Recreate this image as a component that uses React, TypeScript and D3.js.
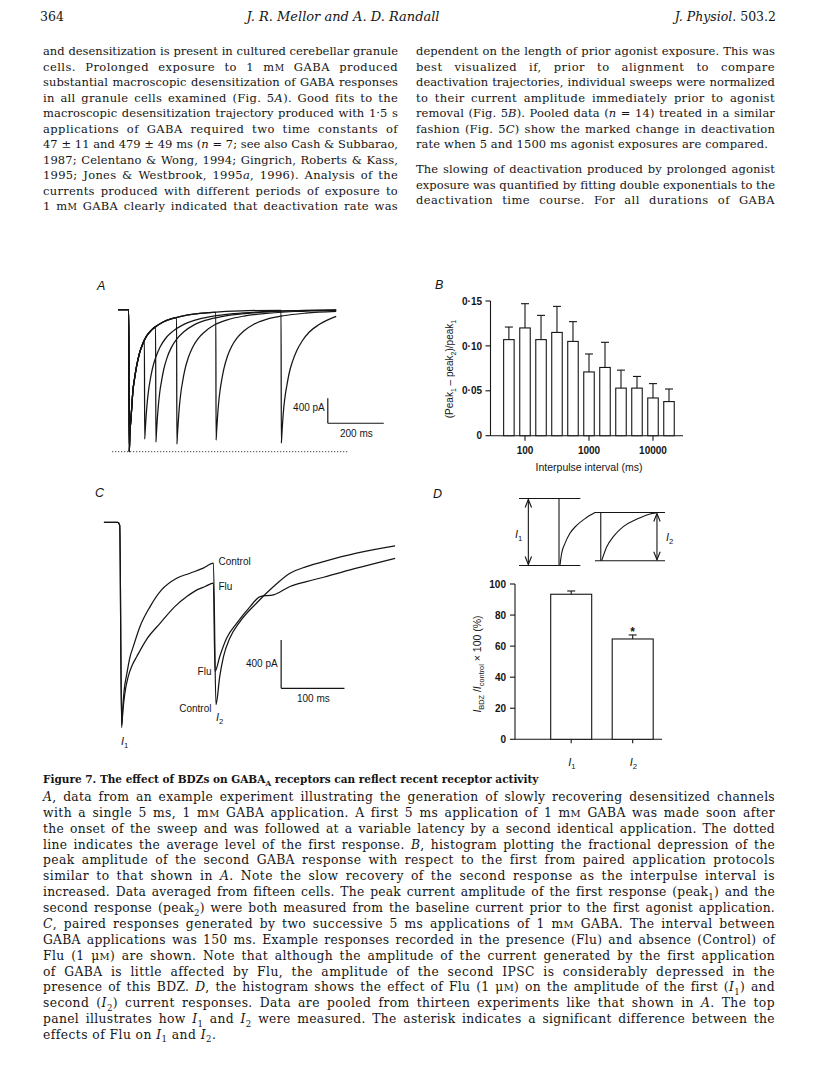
import React, { useLayoutEffect, useRef } from 'react';
import * as d3 from 'd3';

const SERIF = "'DejaVu Serif', serif";
const SANS = "'Liberation Sans', Arial, sans-serif";
const INK = '#151515';

// ---------------- Panel A : paired responses at variable latency ----------------
const aFirstT = [-39, -1, 1, 3, 6, 9, 14, 20, 27, 38, 50, 62, 80, 100, 122, 150, 182, 230, 300, 400, 550, 740];
const aFirstI = [0, 0, -2275, -2000, -1800, -1620, -1300, -1100, -910, -690, -540, -430, -330, -260, -200, -150, -115, -75, -45, -22, -8, -2];
const aOnsets = [55, 95, 170, 310, 543];
const aSecondT = [
  [55, 56, 58, 61, 65, 70, 76, 84, 96, 111, 131, 156, 191, 236, 296, 376, 476, 606, 740],
  [95, 96, 98, 101, 105, 110, 116, 124, 136, 151, 171, 196, 231, 276, 336, 416, 516, 646, 740],
  [170, 171, 173, 176, 180, 185, 191, 199, 211, 226, 246, 271, 306, 351, 411, 491, 591, 740],
  [310, 311, 313, 316, 320, 325, 331, 339, 351, 366, 386, 411, 446, 491, 551, 631, 740],
  [543, 544, 546, 549, 553, 558, 564, 572, 584, 599, 619, 644, 679, 740],
];
const aSecondI = [
  [-480, -2072, -1930, -1720, -1490, -1290, -1120, -940, -760, -600, -460, -350, -250, -170, -110, -65, -35, -16, -7],
  [-275, -2120, -1975, -1760, -1530, -1320, -1150, -960, -770, -610, -470, -355, -250, -170, -110, -65, -34, -15, -8],
  [-130, -2152, -2000, -1790, -1550, -1340, -1165, -975, -780, -615, -470, -355, -245, -165, -105, -62, -32, -12],
  [-45, -2088, -1940, -1730, -1500, -1300, -1130, -945, -755, -595, -455, -340, -235, -158, -100, -58, -30],
  [-12, -2136, -1990, -1780, -1560, -1370, -1210, -1020, -830, -660, -500, -360, -240, -110],
];
const aPeakLevel = -2275;
const aDotT = [-60, 780];
const aBarT = [710, 910];
const aBarI = [-1420, -1820];

// ---------------- Panel B : fractional depression histogram ----------------
const bIntervals = [56, 100, 178, 316, 562, 1000, 1778, 3162, 5623, 10000, 17783];
const bMean = [0.107, 0.12, 0.107, 0.115, 0.105, 0.071, 0.076, 0.053, 0.053, 0.042, 0.038];
const bSem = [0.014, 0.027, 0.027, 0.029, 0.022, 0.02, 0.028, 0.02, 0.013, 0.016, 0.014];
const bYTicks = [0, 0.05, 0.1, 0.15];
const bXTicks = [100, 1000, 10000];

// ---------------- Panel C : Control vs Flu ----------------
const cCtrlT = [-27, -5, -2, 1, 3, 5, 9, 14, 19.5, 30, 46, 64, 88, 109, 130, 146, 150, 156, 162, 172, 188, 214, 241, 267, 293, 320, 372, 433];
const cCtrlI = [0, 0, -25, -1700, -1520, -1390, -1260, -1120, -1028, -863, -698, -560, -463, -422, -380, -339, -1510, -1276, -1111, -959, -822, -670, -532, -422, -367, -326, -256, -196];
const cFluT = [-27, -5, -2, 1, 3, 6, 11.5, 18, 25, 40, 62, 85, 104, 120, 133, 146, 148.5, 156, 167, 183, 204, 220, 241, 267, 293, 320, 372, 433];
const cFluI = [0, 0, -25, -1680, -1560, -1420, -1276, -1180, -1111, -973, -835, -698, -615, -560, -532, -504, -1235, -1111, -959, -835, -698, -615, -601, -532, -491, -455, -380, -298];
const cBarT = [253, 353];
const cBarI = [-975, -1375];

// ---------------- Panel D : schematic + histogram ----------------
const sDecay1X = [28.1, 29.2, 31.5, 34.9, 39.5, 45.2, 52.1];
const sDecay1Y = [0.99, 0.82, 0.67, 0.52, 0.4, 0.3, 0.21];
const sDecay2X = [56.6, 60.1, 64.6, 71.4, 80.6, 89.7, 93.8];
const sDecay2Y = [0.93, 0.72, 0.57, 0.42, 0.31, 0.23, 0.215];
const dCats = ['I1', 'I2'];
const dLabels = ['*I*~1~', '*I*~2~'];
const dMean = [93.4, 64.6];
const dSem = [2.1, 2.6];
const dYTicks = [0, 20, 40, 60, 80, 100];

// ---------------- Text ----------------
const leftCol = [
  'and desensitization is present in cultured cerebellar granule',
  'cells. Prolonged exposure to 1 m[m] GABA produced',
  'substantial macroscopic desensitization of GABA responses',
  'in all granule cells examined (Fig. 5*A*). Good fits to the',
  'macroscopic desensitization trajectory produced with 1·5 s',
  'applications of GABA required two time constants of',
  '47 ± 11 and 479 ± 49 ms (*n* = 7; see also Cash & Subbarao,',
  '1987; Celentano & Wong, 1994; Gingrich, Roberts & Kass,',
  '1995; Jones & Westbrook, 1995*a*, 1996). Analysis of the',
  'currents produced with different periods of exposure to',
  '1 m[m] GABA clearly indicated that deactivation rate was',
];
const rightCol1 = [
  'dependent on the length of prior agonist exposure. This was',
  'best visualized if, prior to alignment to compare',
  'deactivation trajectories, individual sweeps were normalized',
  'to their current amplitude immediately prior to agonist',
  'removal (Fig. 5*B*). Pooled data (*n* = 14) treated in a similar',
  'fashion (Fig. 5*C*) show the marked change in deactivation',
  'rate when 5 and 1500 ms agonist exposures are compared.',
];
const rightCol2 = [
  'The slowing of deactivation produced by prolonged agonist',
  'exposure was quantified by fitting double exponentials to the',
  'deactivation time course. For all durations of GABA',
];
const captionTitle = 'Figure 7. The effect of BDZs on GABA~A~ receptors can reflect recent receptor activity';
const captionLines = [
  '*A*, data from an example experiment illustrating the generation of slowly recovering desensitized channels',
  'with a single 5 ms, 1 m[m] GABA application. A first 5 ms application of 1 m[m] GABA was made soon after',
  'the onset of the sweep and was followed at a variable latency by a second identical application. The dotted',
  'line indicates the average level of the first response. *B*, histogram plotting the fractional depression of the',
  'peak amplitude of the second GABA response with respect to the first from paired application protocols',
  'similar to that shown in *A*. Note the slow recovery of the second response as the interpulse interval is',
  'increased. Data averaged from fifteen cells. The peak current amplitude of the first response (peak~1~) and the',
  'second response (peak~2~) were both measured from the baseline current prior to the first agonist application.',
  '*C*, paired responses generated by two successive 5 ms applications of 1 m[m] GABA. The interval between',
  'GABA applications was 150 ms. Example responses recorded in the presence (Flu) and absence (Control) of',
  'Flu (1 μ[m]) are shown. Note that although the amplitude of the current generated by the first application',
  'of GABA is little affected by Flu, the amplitude of the second IPSC is considerably depressed in the',
  'presence of this BDZ. *D*, the histogram shows the effect of Flu (1 μ[m]) on the amplitude of the first (*I*~1~) and',
  'second (*I*~2~) current responses. Data are pooled from thirteen experiments like that shown in *A*. The top',
  'panel illustrates how *I*~1~ and *I*~2~ were measured. The asterisk indicates a significant difference between the',
  'effects of Flu on *I*~1~ and *I*~2~.',
];

type Seg = { t: string; it: boolean; sc: boolean; sub: boolean };
function parse(s: string): Seg[] {
  const out: Seg[] = [];
  let it = false, sc = false, sub = false, cur = '';
  const push = () => { if (cur) out.push({ t: cur, it, sc, sub }); cur = ''; };
  for (const ch of s) {
    if (ch === '*') { push(); it = !it; }
    else if (ch === '[') { push(); sc = true; }
    else if (ch === ']') { push(); sc = false; }
    else if (ch === '~') { push(); sub = !sub; }
    else cur += ch;
  }
  push();
  return out;
}

// data-just: justify to width (letter + word spacing); data-max: compress only; data-ls: fixed letter spacing
function Rich(props: any) {
  const { x, y, text, size, family, weight, justify, maxw, ls, anchor, fill, transform, italic } = props;
  const segs = parse(text);
  let sub = false;
  const kids = segs.map((s, i) => {
    let dy: number | undefined;
    if (s.sub && !sub) { dy = size * 0.28; sub = true; }
    else if (!s.sub && sub) { dy = -size * 0.28; sub = false; }
    const fs = s.sc ? size * 0.8 : s.sub ? size * 0.7 : undefined;
    return (
      <tspan key={i} dy={dy} fontStyle={s.it ? 'italic' : undefined} fontSize={fs}>
        {s.sc ? s.t.toUpperCase() : s.t}
      </tspan>
    );
  });
  return (
    <text x={x} y={y} fontFamily={family || SERIF} fontSize={size} fontWeight={weight}
      fontStyle={italic ? 'italic' : undefined}
      textAnchor={anchor} data-just={justify} data-max={maxw}
      style={ls ? { letterSpacing: ls + 'px' } : undefined}
      fill={fill || INK} transform={transform}>
      {kids}
    </text>
  );
}

function Arrow({ x, y1, y2 }: { x: number; y1: number; y2: number }) {
  const h = 8, w = 3.2;
  return (
    <g stroke={INK} strokeWidth={1.1} fill="none">
      <line x1={x} y1={y1} x2={x} y2={y2} />
      <polyline points={`${x - w},${y1 + h} ${x},${y1} ${x + w},${y1 + h}`} />
      <polyline points={`${x - w},${y2 - h} ${x},${y2} ${x + w},${y2 - h}`} />
    </g>
  );
}

export default function App() {
  const svgRef = useRef<SVGSVGElement>(null);

  useLayoutEffect(() => {
    const svg = svgRef.current;
    if (!svg) return;
    svg.querySelectorAll('text[data-just]').forEach((node) => {
      const el = node as SVGTextElement;
      const target = +(el.getAttribute('data-just') || 0);
      const len0 = el.getComputedTextLength();
      const txt = el.textContent || '';
      const spaces = (txt.match(/ /g) || []).length;
      const chars = txt.length;
      if (len0 < target && spaces > 0) {
        const slack = target - len0;
        const lsp = Math.min((slack * 0.5) / chars, 0.45);
        el.style.letterSpacing = lsp + 'px';
        const len1 = el.getComputedTextLength();
        const rest = target - len1;
        if (rest > 0) el.style.wordSpacing = rest / spaces + 'px';
      } else if (len0 > target) {
        el.setAttribute('textLength', String(target));
        el.setAttribute('lengthAdjust', 'spacing');
      }
    });
    svg.querySelectorAll('text[data-max]').forEach((node) => {
      const el = node as SVGTextElement;
      const target = +(el.getAttribute('data-max') || 0);
      const len = el.getComputedTextLength();
      if (len > target) {
        el.setAttribute('textLength', String(target));
        el.setAttribute('lengthAdjust', 'spacing');
      }
    });
  }, []);

  // ---- Panel A scales
  const xA = d3.scaleLinear().domain([0, 200]).range([129, 185]);
  const yA = d3.scaleLinear().domain([0, -400]).range([309.5, 334.5]);
  const lineA = d3.line<[number, number]>().x(d => xA(d[0])).y(d => yA(d[1])).curve(d3.curveMonotoneX);
  const aPaths = aOnsets.map((on, k) => {
    const pts: [number, number][] = [];
    aFirstT.forEach((t, i) => { if (t < on) pts.push([t, aFirstI[i]]); });
    aSecondT[k].forEach((t, i) => pts.push([t, aSecondI[k][i]]));
    return lineA(pts) || '';
  });

  // ---- Panel B scales
  const yB = d3.scaleLinear().domain([0, 0.15]).range([435.7, 301]);
  const xB = d3.scaleLog().domain([100, 10000]).range([525, 653]);
  const bAxisX = 490.5;
  const bBarW = 10.5;
  const fmtB = (v: number) => (v === 0 ? '0' : v.toFixed(2).replace('.', '·'));

  // ---- Panel C scales
  const xC = d3.scaleLinear().domain([0, 100]).range([121, 184.3]);
  const yC = d3.scaleLinear().domain([0, -400]).range([522.3, 570.6]);
  const lineC = d3.line<[number, number]>().x(d => xC(d[0])).y(d => yC(d[1])).curve(d3.curveMonotoneX);
  const cCtrlPath = lineC(cCtrlT.map((t, i) => [t, cCtrlI[i]] as [number, number])) || '';
  const cFluPath = lineC(cFluT.map((t, i) => [t, cFluI[i]] as [number, number])) || '';

  // ---- Panel D scales
  const xS = d3.scaleLinear().domain([0, 100]).range([519, 665]);
  const yS = d3.scaleLinear().domain([0, 1]).range([498.5, 565.5]);
  const lineS = d3.line<[number, number]>().x(d => xS(d[0])).y(d => yS(d[1])).curve(d3.curveMonotoneX);
  const sPath1 = lineS(sDecay1X.map((x, i) => [x, sDecay1Y[i]] as [number, number])) || '';
  const sPath2 = lineS(sDecay2X.map((x, i) => [x, sDecay2Y[i]] as [number, number])) || '';
  const yD = d3.scaleLinear().domain([0, 100]).range([739.3, 584]);
  const xD = d3.scalePoint<string>().domain(dCats).range([571.2, 632.7]);
  const dAxisX = 515;
  const dBarW = 41;

  const bodyLH = 15.5;
  const capLH = 15.87;
  const bodySize = 11.5;
  const capSize = 12.3;

  return (
    <svg ref={svgRef} width={816} height={1088} style={{ position: 'absolute', left: 0, top: 0, background: '#fff' }}>
      <rect x={0} y={0} width={816} height={1088} fill="#fff" />

      {/* Header */}
      <Rich x={40} y={21} text="364" size={12.5} />
      <Rich x={343} y={21} text="*J. R. Mellor and A. D. Randall*" size={13} anchor="middle" />
      <Rich x={776} y={21} text="*J. Physiol.* 503.2" size={12.5} anchor="end" />

      {/* Body text */}
      {leftCol.map((l, i) => (
        <Rich key={'l' + i} x={43} y={55 + i * bodyLH} text={l} size={bodySize} justify={355} />
      ))}
      {rightCol1.map((l, i) => (
        i === rightCol1.length - 1
          ? <Rich key={'r' + i} x={416} y={55 + i * bodyLH} text={l} size={bodySize} maxw={352} ls={0.2} />
          : <Rich key={'r' + i} x={416} y={55 + i * bodyLH} text={l} size={bodySize} justify={359} />
      ))}
      {rightCol2.map((l, i) => (
        <Rich key={'r2' + i} x={416} y={173 + i * bodyLH} text={l} size={bodySize} justify={359} />
      ))}

      {/* ---------- Panel A ---------- */}
      <text x={97} y={290} fontFamily={SANS} fontStyle="italic" fontSize={12.5} fill={INK}>A</text>
      <line x1={xA(aDotT[0])} x2={xA(aDotT[1])} y1={yA(aPeakLevel)} y2={yA(aPeakLevel)}
        stroke={INK} strokeWidth={1} strokeDasharray="1 2" />
      <g fill="none" stroke={INK} strokeWidth={1.25} strokeLinejoin="round">
        {aPaths.map((p, i) => <path key={i} d={p} />)}
      </g>
      <g stroke={INK} strokeWidth={1.2} fill="none">
        <line x1={xA(aBarT[0])} x2={xA(aBarT[0])} y1={yA(aBarI[0])} y2={yA(aBarI[1])} />
        <line x1={xA(aBarT[0])} x2={xA(aBarT[1])} y1={yA(aBarI[1])} y2={yA(aBarI[1])} />
      </g>
      <text x={xA(aBarT[0]) - 3} y={411} textAnchor="end" fontFamily={SANS} fontSize={10} fill={INK}>400 pA</text>
      <text x={340} y={437} fontFamily={SANS} fontSize={10} fill={INK}>200 ms</text>

      {/* ---------- Panel B ---------- */}
      <text x={435} y={289} fontFamily={SANS} fontStyle="italic" fontSize={12.5} fill={INK}>B</text>
      <g stroke={INK} strokeWidth={1.1}>
        <line x1={bAxisX} x2={bAxisX} y1={yB(0)} y2={yB(0.15)} />
        <line x1={bAxisX} x2={683} y1={yB(0)} y2={yB(0)} />
        {bYTicks.map(t => (
          <line key={t} x1={bAxisX - 5} x2={bAxisX} y1={yB(t)} y2={yB(t)} />
        ))}
        {bXTicks.map(t => (
          <line key={t} x1={xB(t)} x2={xB(t)} y1={yB(0)} y2={yB(0) + 5} />
        ))}
      </g>
      {bYTicks.map(t => (
        <text key={t} x={482} y={yB(t) + 3.6} textAnchor="end" fontFamily={SANS} fontSize={10}
          fontWeight="bold" fill={INK}>{fmtB(t)}</text>
      ))}
      {bXTicks.map(t => (
        <text key={t} x={xB(t)} y={454} textAnchor="middle" fontFamily={SANS} fontSize={10}
          fontWeight="bold" fill={INK}>{t}</text>
      ))}
      <g stroke={INK} strokeWidth={1.1}>
        {bIntervals.map((v, i) => {
          const cx = xB(v);
          return (
            <g key={v}>
              <line x1={cx} x2={cx} y1={yB(bMean[i])} y2={yB(bMean[i] + bSem[i])} />
              <line x1={cx - 4} x2={cx + 4} y1={yB(bMean[i] + bSem[i])} y2={yB(bMean[i] + bSem[i])} />
              <rect x={cx - bBarW / 2} y={yB(bMean[i])} width={bBarW} height={yB(0) - yB(bMean[i])} fill="#fff" />
            </g>
          );
        })}
      </g>
      <Rich x={0} y={0} text="(Peak~1~ – peak~2~)/peak~1~" size={10} family={SANS} anchor="middle"
        transform="translate(453,369) rotate(-90)" />
      <text x={589} y={471} textAnchor="middle" fontFamily={SANS} fontSize={10.5} fill={INK}>Interpulse interval (ms)</text>

      {/* ---------- Panel C ---------- */}
      <text x={95} y={497} fontFamily={SANS} fontStyle="italic" fontSize={12.5} fill={INK}>C</text>
      <g fill="none" stroke={INK} strokeWidth={1.25} strokeLinejoin="round">
        <path d={cCtrlPath} />
        <path d={cFluPath} />
      </g>
      <g stroke={INK} strokeWidth={1.2}>
        <line x1={xC(cBarT[0])} x2={xC(cBarT[0])} y1={yC(cBarI[0])} y2={yC(cBarI[1])} />
        <line x1={xC(cBarT[0])} x2={xC(cBarT[1])} y1={yC(cBarI[1])} y2={yC(cBarI[1])} />
      </g>
      <text x={xC(cBarT[0]) - 3.5} y={667} textAnchor="end" fontFamily={SANS} fontSize={10} fill={INK}>400 pA</text>
      <text x={297} y={702} fontFamily={SANS} fontSize={10} fill={INK}>100 ms</text>
      <text x={218.5} y={565} fontFamily={SANS} fontSize={10} fill={INK}>Control</text>
      <text x={218.5} y={590} fontFamily={SANS} fontSize={10} fill={INK}>Flu</text>
      <text x={211.5} y={675} textAnchor="end" fontFamily={SANS} fontSize={10} fill={INK}>Flu</text>
      <text x={211.5} y={712} textAnchor="end" fontFamily={SANS} fontSize={10} fill={INK}>Control</text>
      <Rich x={121} y={745} text="*I*~1~" size={11} family={SANS} />
      <Rich x={216} y={721} text="*I*~2~" size={11} family={SANS} />

      {/* ---------- Panel D ---------- */}
      <text x={433} y={498} fontFamily={SANS} fontStyle="italic" fontSize={12.5} fill={INK}>D</text>
      <g stroke={INK} strokeWidth={1.1} fill="none">
        <line x1={xS(0)} x2={xS(42)} y1={yS(0)} y2={yS(0)} />
        <line x1={xS(0)} x2={xS(42)} y1={yS(1)} y2={yS(1)} />
        <line x1={xS(27.4)} x2={xS(27.4)} y1={yS(0)} y2={yS(1)} />
        <path d={sPath1} />
        <line x1={xS(52)} x2={xS(100)} y1={yS(0.21)} y2={yS(0.21)} />
        <line x1={xS(52)} x2={xS(100)} y1={yS(0.93)} y2={yS(0.93)} />
        <line x1={xS(56)} x2={xS(56)} y1={yS(0.21)} y2={yS(0.93)} />
        <path d={sPath2} />
      </g>
      <Arrow x={xS(6.4)} y1={yS(0) + 1} y2={yS(1) - 1} />
      <Arrow x={xS(94.5)} y1={yS(0.21) + 1} y2={yS(0.93) - 1} />
      <Rich x={515} y={538} text="*I*~1~" size={11} family={SANS} />
      <Rich x={666} y={541} text="*I*~2~" size={11} family={SANS} />

      <g stroke={INK} strokeWidth={1.1}>
        <line x1={dAxisX} x2={dAxisX} y1={yD(0)} y2={yD(100)} />
        <line x1={dAxisX} x2={662} y1={yD(0)} y2={yD(0)} />
        {dYTicks.map(t => (
          <line key={t} x1={dAxisX - 5} x2={dAxisX} y1={yD(t)} y2={yD(t)} />
        ))}
        {dCats.map(c => (
          <line key={c} x1={xD(c)!} x2={xD(c)!} y1={yD(0)} y2={yD(0) + 4} />
        ))}
        {dCats.map((c, i) => {
          const cx = xD(c)!;
          return (
            <g key={'b' + c}>
              <line x1={cx} x2={cx} y1={yD(dMean[i])} y2={yD(dMean[i] + dSem[i])} />
              <line x1={cx - 4} x2={cx + 4} y1={yD(dMean[i] + dSem[i])} y2={yD(dMean[i] + dSem[i])} />
              <rect x={cx - dBarW / 2} y={yD(dMean[i])} width={dBarW} height={yD(0) - yD(dMean[i])} fill="#fff" />
            </g>
          );
        })}
      </g>
      {dYTicks.map(t => (
        <text key={t} x={506} y={yD(t) + 3.6} textAnchor="end" fontFamily={SANS} fontSize={10}
          fontWeight="bold" fill={INK}>{t}</text>
      ))}
      {dCats.map((c, i) => (
        <Rich key={c} x={xD(c)! - 3} y={766} text={dLabels[i]} size={11} family={SANS} />
      ))}
      <text x={xD('I2')!} y={yD(dMean[1] + dSem[1]) + 1} textAnchor="middle" fontFamily={SANS}
        fontSize={12} fontWeight="bold" fill={INK}>*</text>
      <Rich x={0} y={0} text="*I*~BDZ~ /*I*~control~ × 100 (%)" size={10.5} family={SANS} anchor="middle"
        transform="translate(481,664) rotate(-90)" />

      {/* ---------- Caption ---------- */}
      <Rich x={43} y={783} text={captionTitle} size={10.5} weight="bold" maxw={521} />
      {captionLines.map((l, i) => (
        i === captionLines.length - 1
          ? <Rich key={'c' + i} x={43} y={801 + i * capLH} text={l} size={capSize} ls={0.45} />
          : <Rich key={'c' + i} x={43} y={801 + i * capLH} text={l} size={capSize} justify={732} />
      ))}
    </svg>
  );
}
